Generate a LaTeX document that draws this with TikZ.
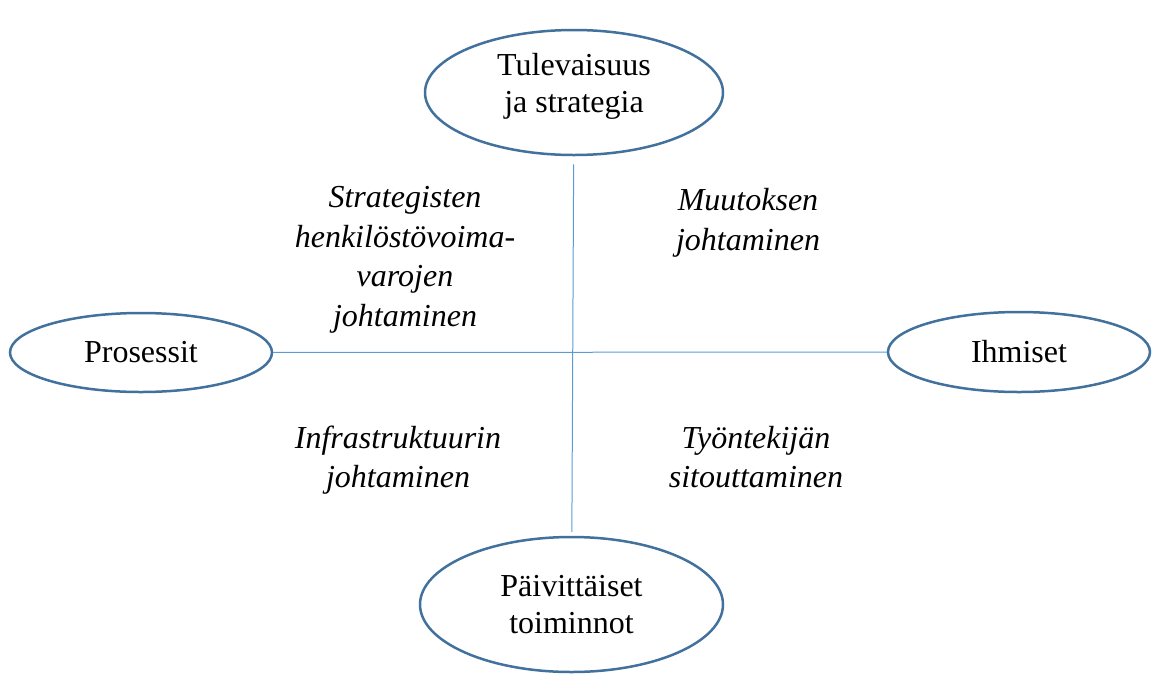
\documentclass[tikz,border=0pt]{standalone}
\usepackage{fontspec}
\setmainfont{Liberation Serif}
\usetikzlibrary{shapes.geometric}

\definecolor{ellblue}{HTML}{41719C}
\definecolor{lineblue}{HTML}{5B9BD5}

\tikzset{
  ell/.style={ellipse, draw=ellblue, line width=2.5pt, inner sep=0pt, align=center,
    font=\fontsize{32}{37}\selectfont},
  lbl/.style={align=center, font=\fontsize{32}{39.5}\selectfont\itshape},
  axisline/.style={draw=lineblue, line width=1pt}
}

\begin{document}
\begin{tikzpicture}[x=1pt,y=-1pt]
    \useasboundingbox (0,0) rectangle (1152,673);
    % ellipses
    \node[ell, minimum width=298pt, minimum height=125pt,
          label={[align=center, font=\fontsize{32}{37}\selectfont, yshift=6pt]center:Tulevaisuus\\ja strategia}]
          (top) at (574,92.5) {};
    \node[ell, minimum width=303pt, minimum height=135pt] (bot) at (571.5,604.5) {Päivittäiset\\toiminnot};
    \node[ell, minimum width=262pt, minimum height=79pt] (lft) at (141,352.5) {Prosessit};
    \node[ell, minimum width=262pt, minimum height=80pt] (rgt) at (1019,352) {Ihmiset};
    % axes
    \draw[axisline, shorten <=8pt, shorten >=4pt] (top) -- (bot);
    \draw[axisline] (lft) -- (rgt);
    % quadrant labels
    \node[lbl] (strat) at (405,260) {Strategisten\\henkilöstövoima-\\varojen\\johtaminen};
    \node[lbl] (muut) at (748,223) {Muutoksen\\johtaminen};
    \node[lbl] (infra) at (398,460) {Infrastruktuurin\\johtaminen};
    \node[lbl] (tyon) at (756,457) {Työntekijän\\sitouttaminen};
\end{tikzpicture}
\end{document}
